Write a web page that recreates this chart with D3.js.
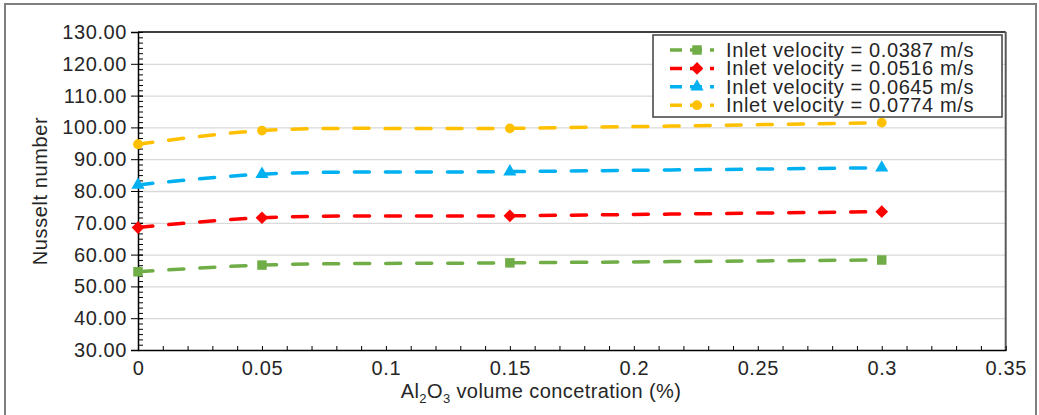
<!DOCTYPE html>
<html>
<head>
<meta charset="utf-8">
<script src="https://cdn.jsdelivr.net/npm/d3@7"></script>
<style>
  body { margin: 0; background: #fff; }
  svg text { font-family: "Liberation Sans", Arial, sans-serif; fill: #262626; }
</style>
</head>
<body>
<div class="chart"></div>
<script>
// volume concentration (%) of Al2O3
const concentration = [0, 0.05, 0.15, 0.3];

// Nusselt number for each inlet velocity
const nu0387 = [54.6, 56.7, 57.4, 58.3];
const nu0516 = [68.5, 71.6, 72.2, 73.5];
const nu0645 = [81.9, 85.3, 86.1, 87.3];
const nu0774 = [94.7, 99.0, 99.7, 101.5];

const seriesNames = [
	'Inlet velocity = 0.0387 m/s',
	'Inlet velocity = 0.0516 m/s',
	'Inlet velocity = 0.0645 m/s',
	'Inlet velocity = 0.0774 m/s'
];
const seriesColors = ['#70ad47', '#ff0000', '#00b0f0', '#ffc000'];
//the diamond is a square turned 45 degrees, like the excel marker
const seriesSymbols = [d3.symbolSquare, d3.symbolSquare, d3.symbolTriangle, d3.symbolCircle];
const symbolSizes = [90, 80, 75, 75];
const symbolRotate = [0, 45, 0, 0];

const xTicks = [0, 0.05, 0.1, 0.15, 0.2, 0.25, 0.3, 0.35];
const yTicks = [30, 40, 50, 60, 70, 80, 90, 100, 110, 120, 130];

const W = 1039, H = 415;
const margin = { top: 32, right: 33.3, bottom: 65, left: 138 };
const width = W - margin.left - margin.right;
const height = H - margin.top - margin.bottom;

const svg = d3.select('.chart').append('svg').attr('width', W).attr('height', H);

//outer frame
svg.append('rect')
	.attr('x', 5).attr('y', 4).attr('width', 1031).attr('height', 414)
	.attr('fill', 'none').attr('stroke', '#7f7f7f').attr('stroke-width', 2);

const g = svg.append('g').attr('transform', `translate(${margin.left}, ${margin.top})`);

const x = d3.scaleLinear().domain([0, 0.35]).range([0, width]);
const y = d3.scaleLinear().domain([30, 130]).range([height, 0]);

//gridlines
g.append('g')
	.call(d3.axisLeft(y).tickValues(yTicks.slice(1, -1)).tickSize(-width).tickFormat(''))
	.call((s) => s.select('.domain').remove())
	.selectAll('line').attr('stroke', '#d9d9d9').attr('stroke-width', 1.3);

//top and right border of plot area
g.append('line').attr('x1', 0).attr('x2', width).attr('y1', 0).attr('y2', 0)
	.attr('stroke', '#000').attr('stroke-width', 1.5);
g.append('line').attr('x1', width).attr('x2', width).attr('y1', 0).attr('y2', height)
	.attr('stroke', '#595959').attr('stroke-width', 2);

//minor ticks
const yMinor = d3.range(30, 130.001, 10 / 6);
g.append('g')
	.call(d3.axisRight(y).tickValues(yMinor).tickSize(5).tickFormat(''))
	.call((s) => s.select('.domain').remove())
	.selectAll('line').attr('stroke', '#000');

const xMinor = d3.range(0, 0.3501, 0.01);
g.append('g')
	.attr('transform', `translate(0, ${height})`)
	.call(d3.axisBottom(x).tickValues(xMinor).tickSize(-4).tickFormat(''))
	.call((s) => s.select('.domain').remove())
	.selectAll('line').attr('stroke', '#000').attr('y2', -4).attr('y1', 1);

//y axis
const yAxis = g.append('g')
	.call(d3.axisLeft(y).tickValues(yTicks).tickSize(7).tickPadding(4).tickFormat(d3.format('.2f')));
yAxis.select('.domain').attr('stroke', '#000').attr('stroke-width', 1.5);
yAxis.selectAll('.tick line').attr('stroke', '#000').attr('x2', -7).attr('x1', 5);
yAxis.selectAll('.tick text')
	.attr('x', -11)
	.style('font-size', '20px').style('letter-spacing', '0.6px')
	.attr('fill', '#262626');

//x axis
const xAxis = g.append('g')
	.attr('transform', `translate(0, ${height})`)
	.call(d3.axisBottom(x).tickValues(xTicks).tickSize(0).tickFormat(d3.format('')));
xAxis.select('.domain').attr('stroke', '#000').attr('stroke-width', 1.5);
xAxis.selectAll('.tick text')
	.attr('y', 25).attr('dy', 0)
	.style('font-size', '20px').style('letter-spacing', '0.6px')
	.attr('fill', '#262626');

//axis titles
const xTitle = svg.append('text')
	.attr('x', 541).attr('y', 398)
	.style('text-anchor', 'middle')
	.style('font-size', '20px').style('letter-spacing', '0.4px');
xTitle.append('tspan').text('Al');
xTitle.append('tspan').text('2').attr('dy', 5).style('font-size', '13px');
xTitle.append('tspan').text('O').attr('dy', -5);
xTitle.append('tspan').text('3').attr('dy', 5).style('font-size', '13px');
xTitle.append('tspan').text(' volume concetration (%)').attr('dy', -5);

svg.append('text')
	.attr('transform', `translate(47, ${margin.top + height / 2}) rotate(-90)`)
	.style('text-anchor', 'middle')
	.style('font-size', '20px').style('letter-spacing', '0.6px')
	.text('Nusselt number');

//series
const allSeries = [nu0387, nu0516, nu0645, nu0774];
const line = d3.line()
	.x((d, i) => x(concentration[i]))
	.y((d) => y(d))
	.curve(d3.curveCatmullRom.alpha(0.5));

allSeries.forEach((values, k) => {
	g.append('path')
		.attr('d', line(values))
		.attr('fill', 'none')
		.attr('stroke', seriesColors[k])
		.attr('stroke-width', 3.5)
		.attr('stroke-linecap', 'round')
		.attr('stroke-dasharray', '15 16');

	g.selectAll(null)
		.data(values)
		.enter()
		.append('path')
		.attr('d', d3.symbol().type(seriesSymbols[k]).size(symbolSizes[k]))
		.attr('transform', (d, i) => `translate(${x(concentration[i])}, ${y(d)}) rotate(${symbolRotate[k]})`)
		.attr('fill', seriesColors[k]);
});

//legend
const legend = svg.append('g').attr('transform', 'translate(653, 35)');
legend.append('rect')
	.attr('width', 349).attr('height', 82)
	.attr('fill', '#fff').attr('stroke', '#404040').attr('stroke-width', 1.5);

seriesNames.forEach((name, k) => {
	const row = legend.append('g').attr('transform', `translate(0, ${15 + k * 18.4})`);
	row.append('line')
		.attr('x1', 17).attr('x2', 61).attr('y1', 0).attr('y2', 0)
		.attr('stroke', seriesColors[k]).attr('stroke-width', 3.5)
		.attr('stroke-dasharray', '12 8');
	row.append('path')
		.attr('d', d3.symbol().type(seriesSymbols[k]).size(symbolSizes[k]))
		.attr('transform', `translate(44, 0) rotate(${symbolRotate[k]})`)
		.attr('fill', seriesColors[k]);
	row.append('text')
		.attr('x', 73).attr('y', 7)
		.style('font-size', '20px').style('letter-spacing', '0.6px')
		.text(name);
});
</script>
</body>
</html>
